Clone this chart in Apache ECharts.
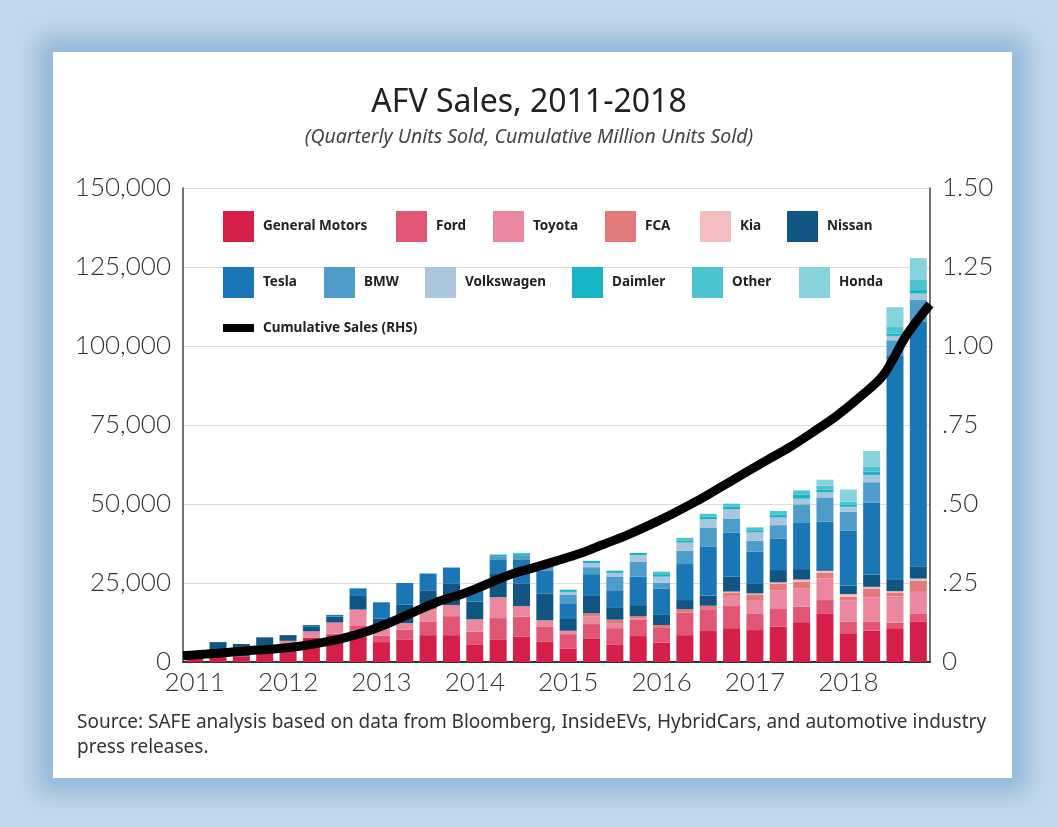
<!DOCTYPE html>
<html>
<head>
<meta charset="utf-8">
<title>AFV Sales, 2011-2018</title>
<script src="https://cdn.jsdelivr.net/npm/echarts@6/dist/echarts.min.js"></script>
<style>
  html, body { margin: 0; padding: 0; }
  body { width: 1058px; height: 827px; background: #c3d8ea; position: relative; overflow: hidden; }
  #card { position: absolute; left: 53px; top: 52px; width: 959px; height: 726px; background: #fff;
          box-shadow: 0 0 22px 16px #93b9d9; }
  #main { position: absolute; left: 0; top: 0; width: 1058px; height: 827px; }
</style>
</head>
<body>
<div id="card"></div>
<div id="main"></div>
<script>
// quarters 2011 Q1 .. 2018 Q4
var quarters = [];
for (var y = 2011; y <= 2018; y++) {
  for (var q = 1; q <= 4; q++) quarters.push(y + ' Q' + q);
}

// quarterly units sold
var gm         = [1000,1700,1800,5200,5700,7700,8500,9900,6300,7000,8500,8500,5400,7000,8000,6400,4300,7300,5400,8200,6100,8500,9800,10700,10100,11200,12600,15400,9100,9900,10700,12700];
var ford       = [0,0,0,0,0,0,500,1500,2000,3200,4200,6000,4200,6900,6300,4700,4500,4700,5300,5100,4900,7100,6900,7000,5100,5800,4900,4200,3700,2800,1800,2700];
var toyota     = [0,0,0,0,1000,2000,3500,5200,2800,2100,4200,3500,3900,6600,3400,2100,1100,2400,1400,500,0,0,0,3200,4400,5600,5800,6900,6600,7800,8200,6800];
var fca        = [0,0,0,0,0,0,0,0,0,0,0,0,0,0,0,0,0,1000,1300,700,700,1100,1100,1100,1800,2100,2100,1800,1300,2800,1300,3500];
var kia        = [0,0,0,0,0,0,0,0,0,0,0,0,0,0,0,0,0,0,0,0,0,0,0,300,300,500,700,600,800,500,400,700];
var nissan     = [500,4600,3900,2600,1800,1400,1900,4300,2600,5800,5800,6900,5600,7600,7200,8400,3700,5500,3700,3500,3200,2900,3200,4700,3000,3900,3300,500,2600,3900,3800,3900];
var tesla      = [0,0,0,0,0,600,500,2400,5200,6900,5300,5000,3700,4400,7400,7400,5000,6900,5600,9000,8400,11400,15600,14000,10200,10000,14600,15000,17400,22700,70900,77300];
var bmw        = [0,0,0,0,0,0,0,0,0,0,0,0,0,1000,1500,2100,2600,2200,4200,4700,1800,4200,5800,4400,3500,4200,5900,7700,6000,6500,4700,7100];
var volkswagen = [0,0,0,0,0,0,0,0,0,0,0,0,0,0,0,0,1000,1300,1300,2100,1900,2600,2800,2900,2600,2400,1800,1600,1600,2300,1400,1900];
var daimler    = [0,0,0,0,0,0,0,0,0,0,0,0,500,500,600,500,700,700,700,700,800,700,800,800,700,1000,1200,900,600,1000,700,1100];
var other      = [0,0,0,0,0,0,0,0,0,0,0,0,0,0,0,0,0,0,0,0,800,800,900,1000,900,1100,1400,1200,1000,1600,2100,3200];
var honda      = [0,0,0,0,0,0,0,0,0,0,0,0,0,0,0,0,0,0,0,0,0,0,0,0,0,0,0,1900,3900,5000,6300,6900];

// cumulative million units, read at each quarter boundary (start of 2011 .. end of 2018)
var cumulative = [0.020,0.025,0.031,0.037,0.042,0.050,0.062,0.078,0.100,0.129,0.162,0.193,0.216,0.246,0.276,0.298,0.320,0.343,0.372,0.401,0.434,0.470,0.509,0.552,0.595,0.638,0.680,0.728,0.779,0.839,0.908,1.035,1.132];

var makers = [
  {name: 'General Motors', data: gm,         color: '#d51f49', x: 218, y: 206},
  {name: 'Ford',           data: ford,       color: '#e05674', x: 391, y: 206},
  {name: 'Toyota',         data: toyota,     color: '#ea889f', x: 488, y: 206},
  {name: 'FCA',            data: fca,        color: '#e27a7a', x: 600, y: 206},
  {name: 'Kia',            data: kia,        color: '#f3bdbf', x: 695, y: 206},
  {name: 'Nissan',         data: nissan,     color: '#115583', x: 782, y: 206},
  {name: 'Tesla',          data: tesla,      color: '#1a77b6', x: 218, y: 262},
  {name: 'BMW',            data: bmw,        color: '#4d9cc9', x: 319, y: 262},
  {name: 'Volkswagen',     data: volkswagen, color: '#a9c6de', x: 420, y: 262},
  {name: 'Daimler',        data: daimler,    color: '#17b5c4', x: 567, y: 262},
  {name: 'Other',          data: other,      color: '#4cc4d0', x: 687, y: 262},
  {name: 'Honda',          data: honda,      color: '#86d3dd', x: 794, y: 262}
];

var legendText = {fontFamily: 'Noto Sans', fontSize: 13.5, fontWeight: 'bold', color: '#222', padding: [0, 0, 0, 4]};

var legends = makers.map(function (m) {
  return {
    data: [m.name], left: m.x, top: m.y, icon: 'rect',
    itemWidth: 31, itemHeight: 31, selectedMode: false, textStyle: legendText
  };
});
legends.push({
  data: ['Cumulative Sales (RHS)'], left: 218, top: 316, icon: 'rect',
  itemWidth: 31, itemHeight: 8, selectedMode: false, textStyle: legendText
});

var series = makers.map(function (m) {
  return {
    name: m.name, type: 'bar', stack: 'afv', data: m.data,
    barWidth: 17, itemStyle: {color: m.color}
  };
});
series.push({
  name: 'Cumulative Sales (RHS)', type: 'line',
  xAxisIndex: 1, yAxisIndex: 1,
  data: cumulative.map(function (v, i) { return [i, v]; }),
  smooth: 0.35, showSymbol: false, z: 5,
  itemStyle: {color: '#000'},
  lineStyle: {color: '#000', width: 9, cap: 'butt'}
});

var axisFont = {fontFamily: 'Lato', fontWeight: 300, fontSize: 26, color: '#333'};

var option = {
  animation: false,
  title: {
    text: 'AFV Sales, 2011-2018',
    subtext: '(Quarterly Units Sold, Cumulative Million Units Sold)',
    left: 'center', top: 82, itemGap: 8,
    textStyle: {fontFamily: 'Noto Sans', fontSize: 32, fontWeight: 'normal', color: '#222'},
    subtextStyle: {fontFamily: 'Noto Sans', fontSize: 19.5, fontStyle: 'italic', color: '#444'}
  },
  legend: legends,
  grid: {left: 183, right: 128, top: 188, bottom: 165},
  xAxis: [{
    type: 'category', data: quarters,
    axisLine: {lineStyle: {color: '#333', width: 2}},
    axisTick: {show: false},
    axisLabel: Object.assign({
      interval: 3, margin: 8,
      formatter: function (v) { return v.slice(0, 4); }
    }, axisFont)
  }, {
    type: 'value', min: 0, max: 32, show: false
  }],
  yAxis: [{
    type: 'value', min: 0, max: 150000, interval: 25000,
    axisLine: {show: true, lineStyle: {color: '#444', width: 1.5}},
    axisTick: {show: false},
    splitLine: {lineStyle: {color: '#dcdcdc'}},
    axisLabel: Object.assign({
      margin: 12,
      formatter: function (v) { return v.toLocaleString('en-US'); }
    }, axisFont)
  }, {
    type: 'value', min: 0, max: 1.5, interval: 0.25, position: 'right',
    axisLine: {show: true, lineStyle: {color: '#444', width: 1.5}},
    axisTick: {show: false},
    splitLine: {show: false},
    axisLabel: Object.assign({
      margin: 12,
      formatter: function (v) {
        if (v === 0) return '0';
        var s = v.toFixed(2);
        return v < 1 ? s.slice(1) : s;
      }
    }, axisFont)
  }],
  graphic: [{
    type: 'text', left: 77, top: 710,
    style: {
      text: 'Source: SAFE analysis based on data from Bloomberg, InsideEVs, HybridCars, and automotive industry\npress releases.',
      font: '19px "Noto Sans"', fill: '#333', lineHeight: 25
    }
  }],
  series: series
};

var myChart = echarts.init(document.getElementById('main'));
myChart.setOption(option);
</script>
</body>
</html>
